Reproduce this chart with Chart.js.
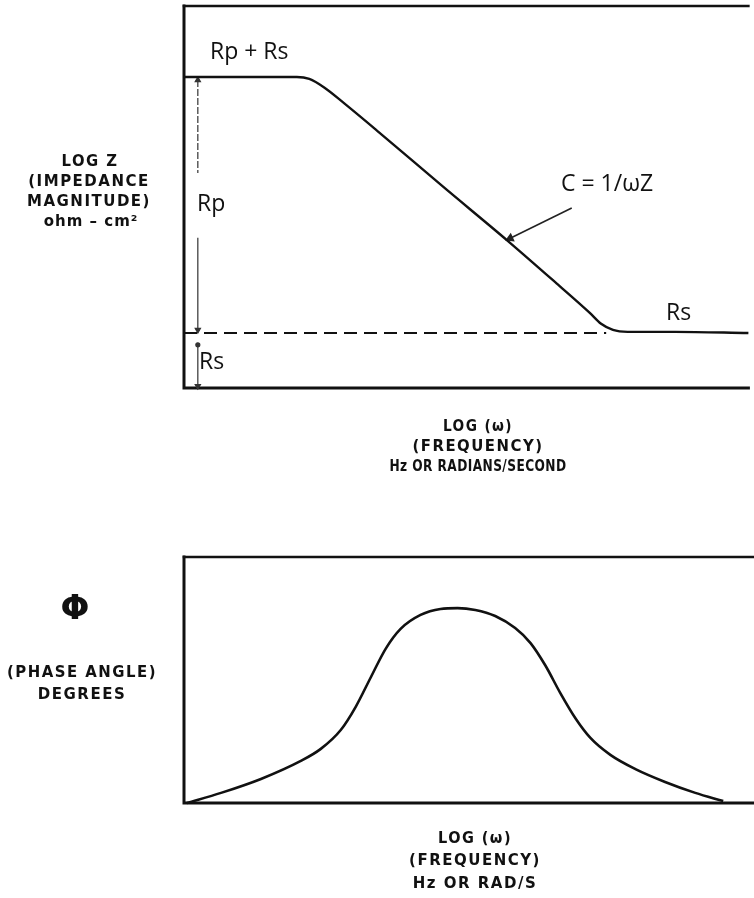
<!DOCTYPE html>
<html>
<head>
<meta charset="utf-8">
<script src="https://cdn.jsdelivr.net/npm/chart.js@4"></script>
<style>
  html, body { margin: 0; padding: 0; background: #fff; }
  #wrap { position: relative; width: 754px; height: 898px; }
  canvas { position: absolute; left: 0; }
  #impedance { top: 0; }
  #phase { top: 500px; }
</style>
</head>
<body>
<div id="wrap">
  <canvas id="impedance" width="754" height="500"></canvas>
  <canvas id="phase" width="754" height="398"></canvas>
</div>
<script>
// log(omega) in arbitrary units, 0..10 across the plot
var freqZ = [0, 1, 2, 2.22, 2.49, 2.84, 3.45, 4.59, 5.73, 6.6, 7.18, 7.39, 7.6, 7.86, 8.7, 10];
var logZ  = [8.14, 8.14, 8.14, 8.09, 7.86, 7.45, 6.70, 5.27, 3.86, 2.74, 1.98, 1.68, 1.52, 1.47, 1.47, 1.44];

// dashed Rs level
var rsLevelX = [0, 7.48];
var rsLevelY = [1.44, 1.44];

// Rp / Rs dimension marks at the left edge
var dimX = 0.245;
var rpUpper = [8.06, 5.63];
var rpLower = [3.93, 1.52];
var rsSpan  = [1.13, 0.05];

// pointer to the slope, C = 1/wZ
var cArrowX = [6.87, 5.78];
var cArrowY = [4.71, 3.92];

// phase angle, degrees
var freqPhase = [0.05, 0.65, 1.35, 2.05, 2.40, 2.75, 3.01, 3.28, 3.54, 3.80, 4.15, 4.50, 4.80,
                 5.11, 5.46, 5.81, 6.08, 6.34, 6.60, 6.87, 7.13, 7.48, 7.92, 8.44, 8.97, 9.46];
var phase     = [0, 3.7, 8.8, 15.4, 19.8, 26.7, 35.1, 46.1, 56.5, 63.7, 68.8, 71.0, 71.3,
                 70.6, 68.4, 64.0, 58.5, 50.3, 40.3, 30.9, 23.8, 17.6, 12.4, 7.7, 3.7, 0.7];

function pts(xs, ys) {
  return xs.map(function(x, i) { return { x: x, y: ys[i] }; });
}
function vline(x, ys) {
  return ys.map(function(y) { return { x: x, y: y }; });
}

var ink = '#111';
var bold = 'bold 15px "DejaVu Sans", sans-serif';
var note = '23px "Open Sans", sans-serif';

var framePlugin = {
  id: 'frame',
  beforeDatasetsDraw: function(chart) {
    var ctx = chart.ctx, a = chart.chartArea;
    ctx.save();
    ctx.strokeStyle = ink;
    ctx.lineCap = 'square';
    ctx.lineWidth = 3;
    ctx.beginPath();
    ctx.moveTo(a.left, a.top); ctx.lineTo(a.left, a.bottom); ctx.lineTo(a.right, a.bottom);
    ctx.stroke();
    ctx.lineWidth = 2.5;
    ctx.beginPath();
    ctx.moveTo(a.left, a.top); ctx.lineTo(a.right, a.top);
    ctx.stroke();
    ctx.restore();
  }
};

var textPlugin = {
  id: 'notes',
  afterDraw: function(chart, args, opts) {
    var ctx = chart.ctx;
    opts.items.forEach(function(it) {
      ctx.save();
      ctx.font = it.font;
      ctx.fillStyle = it.color || ink;
      ctx.textAlign = it.align || 'center';
      ctx.textBaseline = 'middle';
      if ('letterSpacing' in ctx) ctx.letterSpacing = (it.spacing || 0) + 'px';
      if (it.width) ctx.fillText(it.text, it.x, it.y, it.width);
      else ctx.fillText(it.text, it.x, it.y);
      ctx.restore();
    });
  }
};

var hidden = { display: false };

new Chart(document.getElementById('impedance'), {
  type: 'scatter',
  data: {
    datasets: [
      { data: pts(freqZ, logZ), showLine: true, borderColor: ink, borderWidth: 2.4,
        cubicInterpolationMode: 'monotone', pointRadius: 0, clip: false },
      { data: pts(rsLevelX, rsLevelY), showLine: true, borderColor: ink, borderWidth: 2,
        borderDash: [13, 7], pointRadius: 0, clip: false },
      { data: vline(dimX, rpUpper), showLine: true, borderColor: '#333', borderWidth: 1.2,
        borderDash: [7, 2], pointStyle: 'triangle', pointRadius: [3, 0], pointRotation: 0,
        backgroundColor: '#333', clip: false },
      { data: vline(dimX, rpLower), showLine: true, borderColor: '#333', borderWidth: 1.2,
        pointStyle: 'triangle', pointRadius: [0, 3], pointRotation: 180,
        backgroundColor: '#333', clip: false },
      { data: vline(dimX, rsSpan), showLine: true, borderColor: '#333', borderWidth: 1.2,
        pointStyle: ['circle', 'triangle'], pointRadius: [2, 3], pointRotation: [0, 180],
        backgroundColor: '#333', clip: false },
      { data: pts(cArrowX, cArrowY), showLine: true, borderColor: '#222', borderWidth: 1.6,
        pointStyle: 'triangle', pointRadius: [0, 4], pointRotation: 246,
        backgroundColor: '#222', clip: false }
    ]
  },
  options: {
    responsive: false,
    animation: false,
    events: [],
    layout: { padding: { left: 184, top: 6, right: 0, bottom: 112 } },
    scales: {
      x: { type: 'linear', min: 0, max: 10, display: false },
      y: { type: 'linear', min: 0, max: 10, display: false }
    },
    plugins: {
      legend: hidden,
      tooltip: { enabled: false },
      notes: {
        items: [
          { text: 'Rp + Rs', x: 210, y: 52, font: note, align: 'left', width: 87 },
          { text: 'Rp', x: 197, y: 204, font: note, align: 'left' },
          { text: 'Rs', x: 199, y: 362, font: note, align: 'left' },
          { text: 'C = 1/\u03c9Z', x: 561, y: 184, font: note, align: 'left', width: 106 },
          { text: 'Rs', x: 666, y: 313, font: note, align: 'left' },
          { text: 'LOG Z', x: 90, y: 162, font: bold, spacing: 1.5, width: 57 },
          { text: '(IMPEDANCE', x: 89, y: 182, font: bold, spacing: 1.5, width: 123 },
          { text: 'MAGNITUDE)', x: 89, y: 202, font: bold, spacing: 1.5, width: 125 },
          { text: 'ohm \u2013 cm\u00b2', x: 91, y: 222, font: bold, spacing: 1, width: 95 },
          { text: 'LOG (\u03c9)', x: 478, y: 427, font: bold, spacing: 1.5, width: 70 },
          { text: '(FREQUENCY)', x: 478, y: 447, font: bold, spacing: 1.5, width: 131 },
          { text: 'Hz OR RADIANS/SECOND', x: 478, y: 467, font: bold, spacing: 0.5, width: 177 }
        ]
      }
    }
  },
  plugins: [framePlugin, textPlugin]
});

new Chart(document.getElementById('phase'), {
  type: 'scatter',
  data: {
    datasets: [
      { data: pts(freqPhase, phase), showLine: true, borderColor: ink, borderWidth: 2.6,
        cubicInterpolationMode: 'monotone', pointRadius: 0, clip: false }
    ]
  },
  options: {
    responsive: false,
    animation: false,
    events: [],
    layout: { padding: { left: 184, top: 57, right: 0, bottom: 95 } },
    scales: {
      x: { type: 'linear', min: 0, max: 10, display: false },
      y: { type: 'linear', min: 0, max: 90, display: false }
    },
    plugins: {
      legend: hidden,
      tooltip: { enabled: false },
      notes: {
        items: [
          { text: '\u03a6', x: 75, y: 110, font: 'bold 34px "DejaVu Sans", sans-serif' },
          { text: '(PHASE ANGLE)', x: 82, y: 173, font: bold, spacing: 1.5, width: 150 },
          { text: 'DEGREES', x: 82, y: 195, font: bold, spacing: 1.5, width: 90 },
          { text: 'LOG (\u03c9)', x: 475, y: 339, font: bold, spacing: 1.5, width: 74 },
          { text: '(FREQUENCY)', x: 475, y: 361, font: bold, spacing: 1.5, width: 135 },
          { text: 'Hz OR RAD/S', x: 475, y: 384, font: bold, spacing: 1.5, width: 132 }
        ]
      }
    }
  },
  plugins: [framePlugin, textPlugin]
});
</script>
</body>
</html>
